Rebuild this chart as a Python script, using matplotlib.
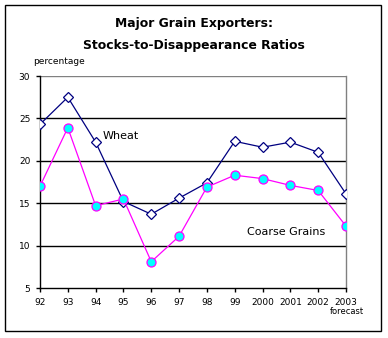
import matplotlib.pyplot as plt
from matplotlib.patches import Rectangle

years = ['92', '93', '94', '95', '96', '97', '98', '99', '2000', '2001', '2002', '2003']
wheat = [24.3, 27.5, 22.2, 15.2, 13.7, 15.6, 17.4, 22.3, 21.6, 22.2, 21.0, 16.1]
coarse = [17.0, 23.9, 14.7, 15.5, 8.1, 11.1, 16.9, 18.3, 17.9, 17.1, 16.5, 12.3]
yticks = [5, 10, 15, 20, 25, 30]

plt.rcParams['font.family'] = ['DejaVu Sans']

fig = plt.figure(figsize=(3.88, 3.38), dpi=100)
ax = fig.add_axes([40/388, 1-288/338, 306/388, 212/338])

x = list(range(len(years)))
for yv in [10, 15, 20, 25]:
    ax.axhline(yv, color='black', lw=1, zorder=1)
ax.axhline(30, color='#808080', lw=1, zorder=1)

ax.plot(x, wheat, color='#000080', lw=0.9, marker='D', ms=5,
        mfc='white', mec='#000080', mew=0.9, zorder=3)
ax.plot(x, coarse, color='#FF00FF', lw=0.9, marker='o', ms=6.5,
        mfc='#00FFFF', mec='#FF00FF', mew=0.9, zorder=3)

ax.set_xlim(0, 11)
ax.set_ylim(5, 30)
ax.set_xticks(x)
ax.set_xticklabels(years, fontsize=6.5)
ax.set_yticks(yticks)
ax.set_yticklabels([str(v) for v in yticks], fontsize=6.5)
ax.tick_params(axis='both', length=3, width=1, color='black', pad=4)

ax.spines['top'].set_visible(False)
ax.spines['right'].set_color('#808080')
ax.spines['left'].set_color('black')
ax.spines['bottom'].set_color('black')
for s in ax.spines.values():
    s.set_linewidth(1)

fig.text(0.5, 1-24/338, 'Major Grain Exporters:', ha='center', va='center',
         fontsize=8.9, fontweight='bold')
fig.text(0.5, 1-45/338, 'Stocks-to-Disappearance Ratios', ha='center', va='center',
         fontsize=8.9, fontweight='bold')
fig.text(33/388, 1-62/338, 'percentage', ha='left', va='center', fontsize=6.5)
fig.text(103/388, 1-136/338, 'Wheat', ha='left', va='center', fontsize=8)
fig.text(247/388, 1-232/338, 'Coarse Grains', ha='left', va='center', fontsize=8)
fig.text(330/388, 1-311/338, 'forecast', ha='left', va='center', fontsize=6)

fig.patches.append(Rectangle((5/388, 1-331/338), 376/388, 326/338,
                             transform=fig.transFigure, fill=False,
                             edgecolor='black', lw=1))

fig.savefig('out.png', dpi=100)
